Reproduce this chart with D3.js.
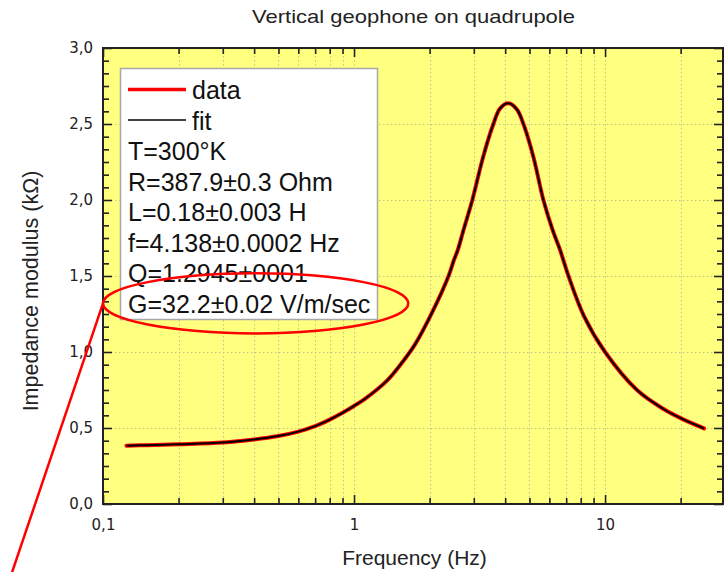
<!DOCTYPE html>
<html><head><meta charset="utf-8">
<script src="https://cdn.jsdelivr.net/npm/d3@7"></script>
<style>
html,body{margin:0;padding:0;background:#fff;}
svg{display:block;}
</style>
</head><body>
<svg id="chart" width="724" height="572"></svg>
<script>
// ---------- data ----------
const title = "Vertical geophone on quadrupole";
const xLabel = "Frequency (Hz)";
const yLabel = "Impedance modulus (k\u03A9)";
const freq = [0.124,0.15,0.2,0.3,0.4,0.5,0.6,0.7,0.8,0.9,1.0,1.106,1.35,1.52,1.75,2.04,2.38,2.50,2.59,2.73,2.96,3.27,3.59,3.82,4.12,4.45,4.73,5.18,5.68,6.18,6.62,6.82,7.15,8.25,10,13.4,17.1,20,24.8];
const dataValues = [0.384,0.387,0.393,0.404,0.424,0.447,0.476,0.512,0.555,0.600,0.645,0.692,0.810,0.910,1.050,1.255,1.500,1.605,1.671,1.803,2.000,2.285,2.500,2.603,2.636,2.597,2.500,2.285,2.000,1.803,1.671,1.605,1.500,1.235,1.000,0.750,0.625,0.565,0.497];
const fitValues  = [0.384,0.387,0.393,0.404,0.424,0.447,0.476,0.512,0.555,0.600,0.645,0.692,0.810,0.910,1.050,1.255,1.500,1.605,1.671,1.803,2.000,2.285,2.500,2.603,2.636,2.597,2.500,2.285,2.000,1.803,1.671,1.605,1.500,1.235,1.000,0.750,0.625,0.565,0.497];
const xMajorTicks = [0.1, 1, 10];
const xMajorLabels = ["0,1", "1", "10"];
const xMinorTicks = [0.2,0.3,0.4,0.5,0.6,0.7,0.8,0.9,2,3,4,5,6,7,8,9,20];
const yMajorTicks = [0, 0.5, 1.0, 1.5, 2.0, 2.5, 3.0];
const yMajorLabels = ["0,0","0,5","1,0","1,5","2,0","2,5","3,0"];
const yMinorTicks = d3.range(0, 3, 0.5).flatMap(b => [1,2,3,4,5].map(k => b + k*0.5/6));
const legendSeries = ["data", "fit"];
const legendParams = ["T=300\u00B0K", "R=387.9\u00B10.3 Ohm", "L=0.18\u00B10.003 H", "f=4.138\u00B10.0002 Hz", "Q=1.2945\u00B10001", "G=32.2\u00B10.02 V/m/sec"];
// annotation (data coordinates): ellipse extent and pointer line end
const annEllipse = {cv: 1.32, f0: 0.1, f1: 1.645, v0: 1.123, v1: 1.518};
const annLineEnd = {f: 0.043, v: -0.47};

// ---------- layout ----------
const svg = d3.select("#chart");
const L = 103, R = 723, T = 48, B = 504;
const x = d3.scaleLog().domain([0.1, 29.5]).range([L, R]);
const y = d3.scaleLinear().domain([0, 3]).range([B, T]);
const FONT = "'Liberation Sans', Arial, sans-serif";

// plot background
svg.append("rect").attr("x", L).attr("y", T).attr("width", R - L).attr("height", B - T).attr("fill", "#ffff80");

// grid
const grid = svg.append("g").attr("stroke", "#c4c488").attr("stroke-width", 1).attr("stroke-dasharray", "1.5,2.5");
grid.selectAll("line.vx").data(xMajorTicks.concat(xMinorTicks).filter(d => d > 0.1)).join("line")
  .attr("x1", d => Math.round(x(d)) + 0.5).attr("x2", d => Math.round(x(d)) + 0.5).attr("y1", T).attr("y2", B);
grid.selectAll("line.hy").data(yMajorTicks.filter(d => d > 0 && d < 3)).join("line")
  .attr("y1", d => Math.round(y(d)) + 0.5).attr("y2", d => Math.round(y(d)) + 0.5).attr("x1", L).attr("x2", R);

// axes (ticks inward)
function styleAxis(g) {
  g.select(".domain").remove();
  g.selectAll(".tick line").attr("stroke", "#222").attr("stroke-width", 1.6);
  g.selectAll(".tick text").attr("fill", "#222").style("font-family", "'DejaVu Sans', sans-serif").style("font-size", "15px");
}
const MAJ = 9, MIN = 6;
svg.append("g").attr("transform", `translate(0,${B})`)
  .call(d3.axisBottom(x).tickValues(xMajorTicks).tickFormat((d, i) => xMajorLabels[i]).tickSize(-MAJ).tickPadding(15))
  .call(styleAxis);
svg.append("g").attr("transform", `translate(0,${B})`)
  .call(d3.axisBottom(x).tickValues(xMinorTicks).tickFormat("").tickSize(-MIN)).call(styleAxis);
svg.append("g").attr("transform", `translate(0,${T})`)
  .call(d3.axisTop(x).tickValues(xMajorTicks).tickFormat("").tickSize(-MAJ)).call(styleAxis);
svg.append("g").attr("transform", `translate(0,${T})`)
  .call(d3.axisTop(x).tickValues(xMinorTicks).tickFormat("").tickSize(-MIN)).call(styleAxis);
svg.append("g").attr("transform", `translate(${L},0)`)
  .call(d3.axisLeft(y).tickValues(yMajorTicks).tickFormat((d, i) => yMajorLabels[i]).tickSize(-MAJ).tickPadding(10))
  .call(styleAxis);
svg.append("g").attr("transform", `translate(${L},0)`)
  .call(d3.axisLeft(y).tickValues(yMinorTicks).tickFormat("").tickSize(-MIN)).call(styleAxis);
svg.append("g").attr("transform", `translate(${R},0)`)
  .call(d3.axisRight(y).tickValues(yMajorTicks).tickFormat("").tickSize(-MAJ)).call(styleAxis);
svg.append("g").attr("transform", `translate(${R},0)`)
  .call(d3.axisRight(y).tickValues(yMinorTicks).tickFormat("").tickSize(-MIN)).call(styleAxis);

// frame
svg.append("rect").attr("x", L).attr("y", T).attr("width", R - L).attr("height", B - T)
  .attr("fill", "none").attr("stroke", "#222").attr("stroke-width", 2);

// legend box
const lg = svg.append("g");
lg.append("rect").attr("x", 120.5).attr("y", 68.5).attr("width", 257).attr("height", 251)
  .attr("fill", "#fff").attr("stroke", "#a8a8a8").attr("stroke-width", 1.5);
const lineH = 30.5, baseY = 99;
legendSeries.forEach((s, i) => {
  lg.append("line").attr("x1", 128).attr("x2", 186).attr("y1", baseY - 9.5 + i * lineH).attr("y2", baseY - 9.5 + i * lineH)
    .attr("stroke", i === 0 ? "#ff0000" : "#000").attr("stroke-width", i === 0 ? 3.5 : 1.5);
  lg.append("text").attr("x", 192).attr("y", baseY + i * lineH).text(s)
    .style("font-family", FONT).style("font-size", "25px").attr("fill", "#111");
});
legendParams.forEach((s, i) => {
  lg.append("text").attr("x", 128).attr("y", baseY + (i + 2) * lineH).text(s)
    .style("font-family", FONT).style("font-size", "25px").attr("fill", "#111");
});

// curves
const pts = (vals) => freq.map((f, i) => [f, vals[i]]);
const line = d3.line().x(d => x(d[0])).y(d => y(d[1])).curve(d3.curveCatmullRom.alpha(0.5));
svg.append("path").attr("d", line(pts(dataValues))).attr("fill", "none").attr("stroke", "#ff0000").attr("stroke-width", 4).attr("stroke-linecap", "round");
svg.append("path").attr("d", line(pts(fitValues))).attr("fill", "none").attr("stroke", "#000").attr("stroke-width", 2);

// annotation
const ecy = y(annEllipse.cv);
const erx = (x(annEllipse.f1) - x(annEllipse.f0)) / 2, ery = (y(annEllipse.v0) - y(annEllipse.v1)) / 2;
svg.append("ellipse").attr("cx", (x(annEllipse.f1) + x(annEllipse.f0)) / 2).attr("cy", ecy).attr("rx", erx).attr("ry", ery)
  .attr("fill", "none").attr("stroke", "#ff0000").attr("stroke-width", 2.5);
svg.append("line").attr("x1", x(annEllipse.f0)).attr("y1", ecy).attr("x2", x(annLineEnd.f)).attr("y2", y(annLineEnd.v))
  .attr("stroke", "#ff0000").attr("stroke-width", 2.5);

// titles
svg.append("text").attr("x", 413.5).attr("y", 23.3).attr("text-anchor", "middle").text(title)
  .style("font-family", FONT).style("font-size", "19px").attr("fill", "#222")
  .attr("textLength", 323).attr("lengthAdjust", "spacingAndGlyphs");
svg.append("text").attr("x", 414.5).attr("y", 565).attr("text-anchor", "middle").text(xLabel)
  .style("font-family", FONT).style("font-size", "21px").attr("fill", "#222");
svg.append("text").attr("transform", "translate(38,291) rotate(-90)").attr("text-anchor", "middle").text(yLabel)
  .style("font-family", FONT).style("font-size", "21.5px").attr("fill", "#222");
</script>
</body></html>
